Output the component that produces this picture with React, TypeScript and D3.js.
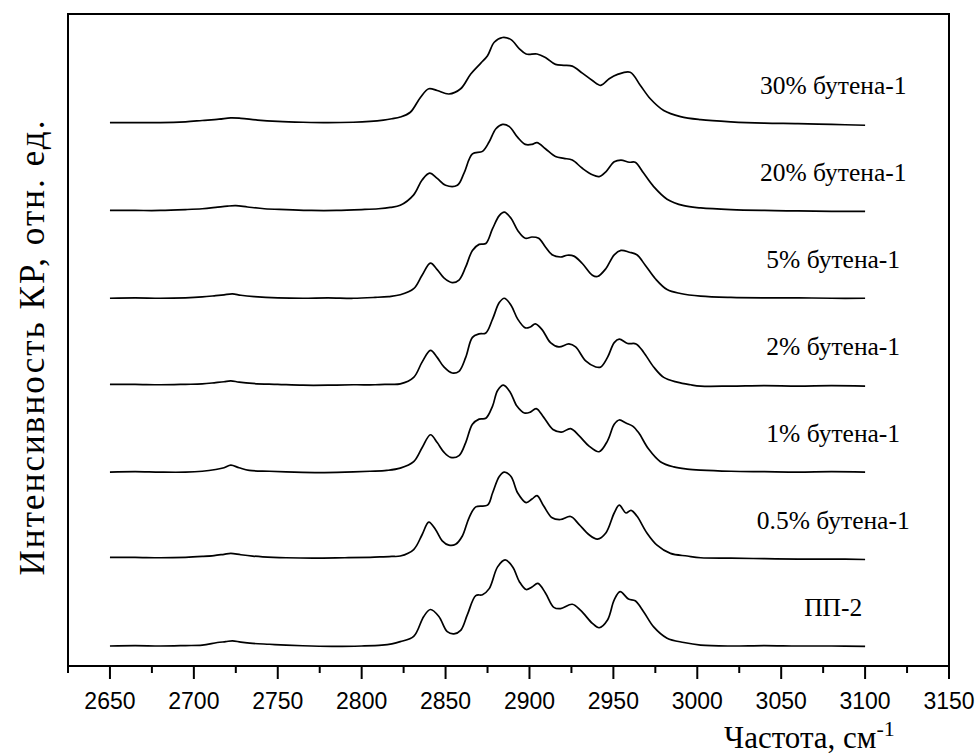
import React from 'react';
import * as d3 from 'd3';

// Raman spectra (C–H stretching region) of polypropylene and propylene/butene-1 copolymers.
// Each series: [wavenumber, cm-1; intensity above its own baseline, a.u.]
const pp2: [number, number][] = [
  [2650, 0.0], [2665, 0.005], [2680, 0.0], [2695, 0.005], [2705, 0.01], [2714, 0.04], [2719, 0.05],
  [2723, 0.06], [2728, 0.045], [2735, 0.03], [2745, 0.02], [2755, 0.01], [2770, 0.0], [2785, -0.005],
  [2800, 0.0], [2812, 0.01], [2818, 0.025], [2823, 0.05], [2831, 0.11], [2837, 0.34], [2841, 0.42],
  [2846, 0.34], [2851, 0.165], [2855, 0.14], [2859, 0.18], [2863, 0.36], [2868, 0.58], [2872, 0.59],
  [2876, 0.66], [2881, 0.91], [2885.5, 0.99], [2890, 0.91], [2894, 0.74], [2898, 0.65], [2901.5, 0.68],
  [2905, 0.72], [2909.5, 0.61], [2914.5, 0.445], [2918.5, 0.43], [2925.5, 0.48], [2930.5, 0.41],
  [2937.5, 0.26], [2941.5, 0.21], [2946.5, 0.3], [2950.5, 0.53], [2954, 0.625], [2959, 0.54],
  [2963, 0.52], [2968, 0.395], [2974, 0.22], [2982, 0.09], [2992, 0.04], [3002, 0.01], [3020, 0.0],
  [3040, 0.005], [3060, 0.0], [3080, 0.0], [3100, -0.005],
];

const but05: [number, number][] = [
  [2650, 0.02], [2665, 0.02], [2680, 0.015], [2695, 0.02], [2705, 0.03], [2712, 0.04], [2718, 0.055],
  [2722, 0.065], [2728, 0.05], [2735, 0.035], [2741, 0.026], [2755, 0.015], [2771, 0.01], [2790, 0.015],
  [2805, 0.02], [2813, 0.026], [2818, 0.03], [2823, 0.035], [2831, 0.11], [2836, 0.28], [2840, 0.425],
  [2844, 0.34], [2848, 0.21], [2852, 0.16], [2856, 0.17], [2860, 0.265], [2864, 0.475], [2868, 0.6],
  [2875, 0.62], [2878, 0.76], [2882, 0.95], [2885, 1.0], [2889, 0.95], [2893, 0.76], [2898, 0.65],
  [2901.5, 0.69], [2904.5, 0.73], [2908.5, 0.61], [2913.5, 0.475], [2918.5, 0.455], [2924.5, 0.49],
  [2929.5, 0.4], [2935.5, 0.28], [2940.5, 0.23], [2945.5, 0.3], [2950.5, 0.53], [2953.5, 0.62],
  [2957.5, 0.53], [2960.5, 0.56], [2964, 0.495], [2970, 0.3], [2976, 0.16], [2984, 0.065],
  [2994, 0.035], [3002, 0.015], [3020, 0.01], [3040, 0.005], [3060, 0.0], [3080, 0.0], [3100, -0.005],
];

const but1: [number, number][] = [
  [2650, 0.0], [2665, 0.005], [2680, 0.0], [2695, 0.0], [2705, 0.01], [2713, 0.03], [2718, 0.05],
  [2722, 0.08], [2727, 0.05], [2733, 0.02], [2745, 0.01], [2760, 0.0], [2775, -0.005], [2790, 0.0],
  [2805, 0.01], [2815, 0.02], [2823, 0.046], [2831, 0.12], [2836, 0.28], [2841, 0.43], [2845, 0.34],
  [2849, 0.23], [2853, 0.17], [2858, 0.19], [2862, 0.34], [2866, 0.55], [2870, 0.61], [2874, 0.62],
  [2878, 0.76], [2881, 0.94], [2884.5, 1.0], [2888.5, 0.92], [2892.5, 0.76], [2897, 0.68],
  [2900.5, 0.69], [2904, 0.73], [2908.5, 0.63], [2914, 0.49], [2919, 0.46], [2924.5, 0.5],
  [2929.5, 0.42], [2935.5, 0.3], [2941.5, 0.235], [2946.5, 0.36], [2950.5, 0.55], [2953.5, 0.6],
  [2957.5, 0.565], [2961.5, 0.53], [2965, 0.455], [2971, 0.265], [2978, 0.12], [2986, 0.06],
  [2994, 0.035], [3002, 0.023], [3020, 0.01], [3040, 0.005], [3060, 0.0], [3080, 0.005], [3100, 0.0],
];

const but2: [number, number][] = [
  [2650, 0.01], [2665, 0.01], [2680, 0.005], [2695, 0.01], [2705, 0.015], [2713, 0.03], [2718, 0.04],
  [2722, 0.05], [2727, 0.035], [2735, 0.02], [2750, 0.01], [2765, 0.0], [2780, 0.0], [2795, 0.005],
  [2808, 0.005], [2816, 0.01], [2823, 0.015], [2831, 0.09], [2836, 0.265], [2841, 0.4], [2845, 0.32],
  [2849, 0.21], [2854, 0.14], [2858, 0.16], [2862, 0.32], [2866, 0.55], [2870, 0.59], [2874, 0.6],
  [2878, 0.76], [2882, 0.95], [2885, 1.0], [2889, 0.92], [2893, 0.76], [2897.5, 0.66], [2900.5, 0.67],
  [2903.5, 0.705], [2907.5, 0.64], [2912.5, 0.49], [2917.5, 0.44], [2923.5, 0.475], [2927.5, 0.44],
  [2933.5, 0.28], [2939.5, 0.21], [2942.5, 0.21], [2946.5, 0.32], [2950.5, 0.49], [2953.5, 0.53],
  [2958.5, 0.48], [2963.5, 0.475], [2968, 0.38], [2974, 0.21], [2980, 0.09], [2988, 0.035],
  [2996, 0.005], [3002, -0.01], [3020, -0.01], [3040, -0.005], [3060, -0.01], [3080, -0.005], [3100, -0.01],
];

const but5: [number, number][] = [
  [2650, 0.0], [2665, 0.005], [2680, 0.0], [2695, 0.005], [2705, 0.015], [2713, 0.03], [2718, 0.04],
  [2723, 0.05], [2728, 0.035], [2736, 0.02], [2750, 0.005], [2765, 0.0], [2780, 0.005], [2795, 0.0],
  [2808, 0.01], [2816, 0.02], [2823, 0.04], [2831, 0.11], [2836, 0.265], [2841, 0.405], [2845, 0.33],
  [2849, 0.235], [2854, 0.18], [2858, 0.21], [2862, 0.36], [2866, 0.55], [2870, 0.62], [2874, 0.63],
  [2878, 0.8], [2882, 0.95], [2885, 0.99], [2889, 0.92], [2893, 0.78], [2897.5, 0.69], [2901.5, 0.705],
  [2905.5, 0.69], [2909.5, 0.59], [2913.5, 0.5], [2918.5, 0.475], [2922.5, 0.495], [2926.5, 0.485],
  [2931.5, 0.4], [2937.5, 0.265], [2940.5, 0.25], [2945.5, 0.34], [2950.5, 0.5], [2954.5, 0.55],
  [2959.5, 0.53], [2964, 0.5], [2969, 0.38], [2975, 0.225], [2982, 0.1], [2990, 0.055], [3002, 0.025],
  [3020, 0.01], [3040, 0.005], [3060, 0.005], [3080, 0.0], [3100, 0.0],
];

const but20: [number, number][] = [
  [2650, 0.01], [2665, 0.01], [2680, 0.01], [2695, 0.02], [2705, 0.03], [2713, 0.045], [2720, 0.06],
  [2725, 0.065], [2732, 0.05], [2742, 0.03], [2755, 0.02], [2770, 0.01], [2785, 0.01], [2800, 0.02],
  [2810, 0.03], [2817, 0.045], [2823, 0.07], [2831, 0.19], [2836, 0.36], [2840.5, 0.44], [2845, 0.38],
  [2850, 0.3], [2857, 0.3], [2861, 0.44], [2866, 0.66], [2872, 0.69], [2876, 0.8], [2880, 0.95],
  [2884, 1.0], [2888, 0.975], [2893, 0.85], [2897.5, 0.77], [2901.5, 0.77], [2904.5, 0.79],
  [2909.5, 0.72], [2915.5, 0.63], [2920.5, 0.61], [2925.5, 0.59], [2931.5, 0.495], [2937.5, 0.42],
  [2941.5, 0.4], [2945.5, 0.455], [2950.5, 0.57], [2954.5, 0.59], [2959.5, 0.565], [2963, 0.565],
  [2968, 0.44], [2974, 0.285], [2982, 0.14], [2992, 0.065], [3002, 0.04], [3020, 0.02], [3040, 0.01],
  [3060, 0.005], [3080, 0.0], [3100, 0.0],
];

const but30: [number, number][] = [
  [2650, 0.02], [2665, 0.02], [2680, 0.02], [2695, 0.03], [2705, 0.045], [2715, 0.06], [2722, 0.075],
  [2728, 0.07], [2738, 0.05], [2750, 0.035], [2765, 0.025], [2780, 0.02], [2795, 0.025], [2805, 0.035],
  [2813, 0.05], [2818, 0.065], [2823, 0.085], [2829, 0.14], [2835, 0.31], [2840, 0.41], [2845, 0.39],
  [2852, 0.35], [2859, 0.41], [2865, 0.58], [2871, 0.705], [2875, 0.79], [2879, 0.945], [2884, 1.0],
  [2889, 0.975], [2894, 0.87], [2898, 0.81], [2904.5, 0.81], [2909.5, 0.77], [2915.5, 0.69],
  [2920.5, 0.68], [2925.5, 0.67], [2931.5, 0.59], [2937.5, 0.505], [2942.5, 0.45], [2947.5, 0.525],
  [2952.5, 0.575], [2960, 0.6], [2966, 0.45], [2972, 0.295], [2980, 0.16], [2990, 0.09], [3002, 0.055],
  [3020, 0.03], [3040, 0.015], [3060, 0.01], [3080, 0.0], [3100, -0.01],
];

const spectra = [pp2, but05, but1, but2, but5, but20, but30];
const seriesLabels = [
  'ПП-2',
  '0.5% бутена-1',
  '1% бутена-1',
  '2% бутена-1',
  '5% бутена-1',
  '20% бутена-1',
  '30% бутена-1',
];
// vertical stacking offsets of the spectra
const seriesOffsets = [0.23, 1.23, 2.23, 3.23, 4.23, 5.23, 6.23];

const xMajorTicks = [2650, 2700, 2750, 2800, 2850, 2900, 2950, 3000, 3050, 3100, 3150];
const xMinorTicks = [2625, 2675, 2725, 2775, 2825, 2875, 2925, 2975, 3025, 3075, 3125];

const W = 979;
const H = 755;
const M = { left: 68, right: 949, top: 14, bottom: 666 };
const SERIF = '"Liberation Serif", "Times New Roman", serif';
const SANS = '"Liberation Sans", Arial, sans-serif';

export default function App() {
  const x = d3.scaleLinear().domain([2625, 3150]).range([M.left, M.right]);
  const y = d3.scaleLinear().domain([0, 7.5]).range([M.bottom, M.top]);

  const labelX = x(3081);

  return (
    <svg
      width={W}
      height={H}
      viewBox={`0 0 ${W} ${H}`}
      style={{ position: 'absolute', left: 0, top: 0, background: '#fff' }}
    >
      <rect x={0} y={0} width={W} height={H} fill="#fff" />

      {spectra.map((s, i) => {
        const line = d3
          .line<[number, number]>()
          .x((d) => x(d[0]))
          .y((d) => y(d[1] + seriesOffsets[i]))
          .curve(d3.curveCatmullRom.alpha(0.5));
        return (
          <path
            key={i}
            d={line(s) ?? ''}
            fill="none"
            stroke="#000"
            strokeWidth={1.7}
            strokeLinejoin="round"
          />
        );
      })}

      {seriesLabels.map((t, i) => (
        <text
          key={t}
          x={labelX}
          y={y(seriesOffsets[i] + 0.345)}
          textAnchor="middle"
          fontFamily={SERIF}
          fontSize={25.5}
          fill="#000"
        >
          {t}
        </text>
      ))}

      {/* frame */}
      <rect
        x={M.left}
        y={M.top}
        width={M.right - M.left}
        height={M.bottom - M.top}
        fill="none"
        stroke="#000"
        strokeWidth={2}
      />

      {/* bottom axis ticks */}
      {xMajorTicks.map((t) => (
        <g key={t}>
          <line x1={x(t)} x2={x(t)} y1={M.bottom} y2={M.bottom + 13} stroke="#000" strokeWidth={2} />
          <text
            x={x(t)}
            y={709}
            textAnchor="middle"
            fontFamily={SANS}
            fontSize={23}
            fill="#000"
          >
            {t}
          </text>
        </g>
      ))}
      {xMinorTicks.map((t) => (
        <line key={t} x1={x(t)} x2={x(t)} y1={M.bottom} y2={M.bottom + 7} stroke="#000" strokeWidth={2} />
      ))}

      {/* axis titles */}
      <text x={724} y={748} fontFamily={SERIF} fontSize={31} fill="#000">
        Частота, см
        <tspan fontSize={22} dy={-12}>
          -1
        </tspan>
      </text>
      <text
        transform="translate(44,348) rotate(-90)"
        textAnchor="middle"
        fontFamily={SERIF}
        fontSize={35}
        textLength={455}
        lengthAdjust="spacing"
        fill="#000"
      >
        Интенсивность КР, отн. ед.
      </text>
    </svg>
  );
}
